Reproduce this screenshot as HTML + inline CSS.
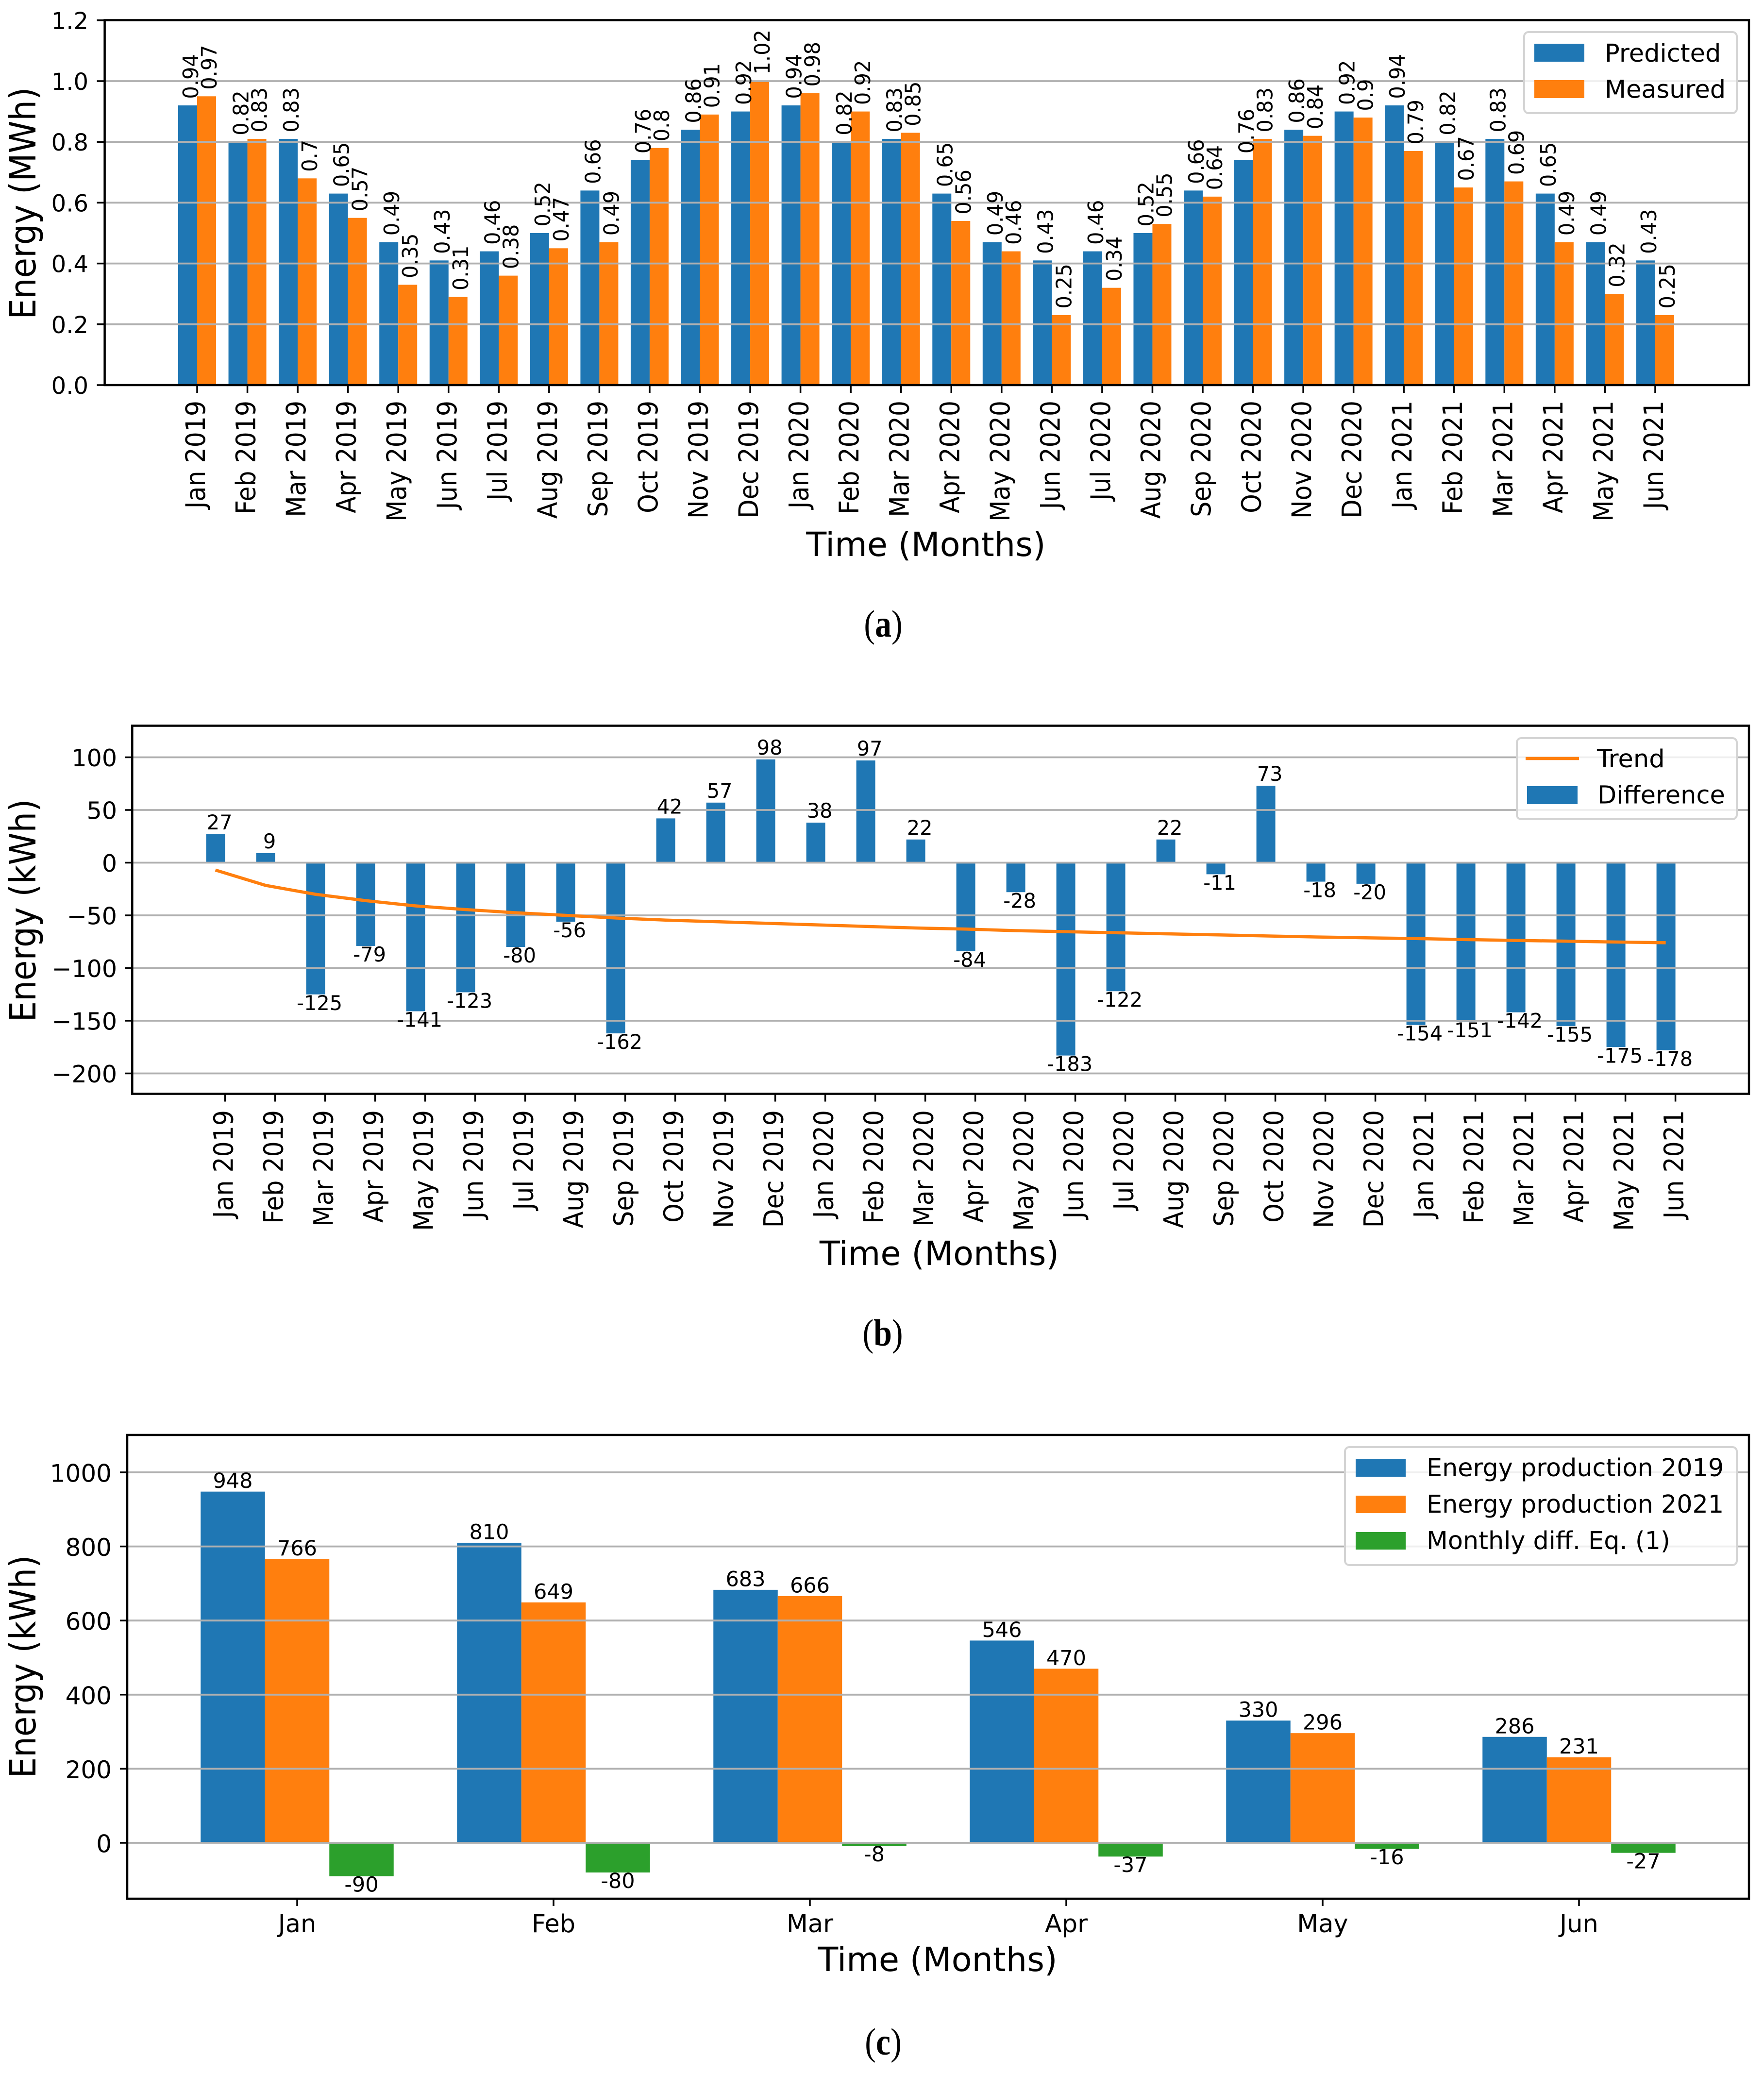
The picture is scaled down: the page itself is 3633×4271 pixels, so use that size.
<!DOCTYPE html>
<html lang="en">
<head>
<meta charset="utf-8">
<title>Energy charts</title>
<style>
html,body{margin:0;padding:0;background:#fff;}
svg{display:block;}
text{font-family:"DejaVu Sans","Liberation Sans",sans-serif;fill:#000;}
.cap{font-family:"Liberation Serif",serif;}
</style>
</head>
<body>
<svg id="fig" xmlns="http://www.w3.org/2000/svg" width="3633" height="4271" viewBox="0 0 3633 4271">
  <rect x="0" y="0" width="3633" height="4271" fill="#fff"/>
  <g id="chartA"></g>
  <g id="chartB"></g>
  <g id="chartC"></g>

  <text class="cap" transform="translate(1819,1311) scale(1,1.16)" text-anchor="middle" font-size="68">(<tspan font-weight="bold">a</tspan>)</text>
  <text class="cap" transform="translate(1818,2771) scale(1,1.16)" text-anchor="middle" font-size="68">(<tspan font-weight="bold">b</tspan>)</text>
  <text class="cap" transform="translate(1819,4231) scale(1,1.16)" text-anchor="middle" font-size="68">(<tspan font-weight="bold">c</tspan>)</text>

  <g id="legendA">
    <rect x="3139" y="66" width="438" height="167" rx="9" fill="#fff" fill-opacity="0.8" stroke="#d4d4d4" stroke-width="4"/>
    <rect x="3160" y="90" width="103" height="37" fill="#1f77b4"/>
    <rect x="3160" y="165" width="103" height="37" fill="#ff7f0e"/>
    <text x="3305" y="127" font-size="51">Predicted</text>
    <text x="3305" y="201.5" font-size="51">Measured</text>
  </g>
  <g id="legendB">
    <rect x="3124" y="1520" width="453" height="167" rx="9" fill="#fff" fill-opacity="0.8" stroke="#d4d4d4" stroke-width="4"/>
    <line x1="3142" y1="1562" x2="3252" y2="1562" stroke="#ff7f0e" stroke-width="6.5"/>
    <rect x="3145" y="1619" width="104" height="37" fill="#1f77b4"/>
    <text x="3289" y="1580" font-size="51">Trend</text>
    <text x="3290" y="1654.5" font-size="51">Difference</text>
  </g>
  <g id="legendC">
    <rect x="2770" y="2980" width="807" height="243" rx="9" fill="#fff" fill-opacity="0.8" stroke="#d4d4d4" stroke-width="4"/>
    <rect x="2792" y="3004" width="103" height="37" fill="#1f77b4"/>
    <rect x="2792" y="3080" width="103" height="36" fill="#ff7f0e"/>
    <rect x="2792" y="3155" width="103" height="36" fill="#2ca02c"/>
    <text x="2938" y="3040" font-size="50.8">Energy production 2019</text>
    <text x="2938" y="3115" font-size="50.8">Energy production 2021</text>
    <text x="2938" y="3190" font-size="50.8">Monthly diff. Eq. (1)</text>
  </g>
</svg>
<script>
// ---- Shared categories ----
const monthCategories = ['Jan 2019','Feb 2019','Mar 2019','Apr 2019','May 2019','Jun 2019','Jul 2019','Aug 2019','Sep 2019','Oct 2019','Nov 2019','Dec 2019','Jan 2020','Feb 2020','Mar 2020','Apr 2020','May 2020','Jun 2020','Jul 2020','Aug 2020','Sep 2020','Oct 2020','Nov 2020','Dec 2020','Jan 2021','Feb 2021','Mar 2021','Apr 2021','May 2021','Jun 2021'];

// ---- Chart A ----
const predictedValues = [0.92,0.80,0.81,0.63,0.47,0.41,0.44,0.50,0.64,0.74,0.84,0.90,0.92,0.80,0.81,0.63,0.47,0.41,0.44,0.50,0.64,0.74,0.84,0.90,0.92,0.80,0.81,0.63,0.47,0.41];
const measuredValues = [0.95,0.81,0.68,0.55,0.33,0.29,0.36,0.45,0.47,0.78,0.89,1.00,0.96,0.90,0.83,0.54,0.44,0.23,0.32,0.53,0.62,0.81,0.82,0.88,0.77,0.65,0.67,0.47,0.30,0.23];
const predictedLabels = ['0.94','0.82','0.83','0.65','0.49','0.43','0.46','0.52','0.66','0.76','0.86','0.92','0.94','0.82','0.83','0.65','0.49','0.43','0.46','0.52','0.66','0.76','0.86','0.92','0.94','0.82','0.83','0.65','0.49','0.43'];
const measuredLabels = ['0.97','0.83','0.7','0.57','0.35','0.31','0.38','0.47','0.49','0.8','0.91','1.02','0.98','0.92','0.85','0.56','0.46','0.25','0.34','0.55','0.64','0.83','0.84','0.9','0.79','0.67','0.69','0.49','0.32','0.25'];
const yTicksA = [0,0.2,0.4,0.6,0.8,1.0,1.2];
const yTickLabelsA = ['0.0','0.2','0.4','0.6','0.8','1.0','1.2'];

// ---- Chart B ----
const differenceValues = [27,9,-125,-79,-141,-123,-80,-56,-162,42,57,98,38,97,22,-84,-28,-183,-122,22,-11,73,-18,-20,-154,-151,-142,-155,-175,-178];
const trendValues = [-7,-21.5,-30,-36,-41,-44.5,-47.5,-50,-52.5,-54.5,-56,-57.5,-59,-60.5,-62,-63,-64.5,-65.5,-66.5,-67.5,-68.5,-69.5,-70.5,-71.3,-72,-73,-73.8,-74.5,-75.3,-76];
const yTicksB = [-200,-150,-100,-50,0,50,100];
const yTickLabelsB = ['\u2212200','\u2212150','\u2212100','\u221250','0','50','100'];

// ---- Chart C ----
const shortMonths = ['Jan','Feb','Mar','Apr','May','Jun'];
const production2019 = [948,810,683,546,330,286];
const production2021 = [766,649,666,470,296,231];
const monthlyDiff = [-90,-80,-8,-37,-16,-27];
const yTicksC = [0,200,400,600,800,1000];
const yTickLabelsC = ['0','200','400','600','800','1000'];

// ---- Axis functions ----
const xA = i => 406 + i * 103.55;
const yA = v => 793 - v * 626;
const xB = i => 463.6 + i * 103;
const yB = v => 1776.5 - v * 2.17;
const xC = i => 612 + i * 528;
const yC = v => 3795 - v * 0.763;

const NS = 'http://www.w3.org/2000/svg';
function mk(tag, parent, attrs, txt) {
  const el = document.createElementNS(NS, tag);
  for (const k in attrs) el.setAttribute(k, attrs[k]);
  if (txt !== undefined) el.textContent = txt;
  parent.appendChild(el);
  return el;
}
function barRect(parent, x0, x1, y0, y1, color) {
  return mk('rect', parent, {x: x0, y: Math.min(y0, y1), width: x1 - x0, height: Math.abs(y1 - y0), fill: color});
}
function drawGrid(g, ticks, yf, left, right, key) {
  ticks.forEach(function (t) {
    const l = mk('line', g, {x1: left, x2: right, y1: yf(t), y2: yf(t), stroke: '#b0b0b0', 'stroke-width': 3.8});
    
    
  });
}
function drawFrame(g, left, top, right, bottom, key) {
  const f = mk('rect', g, {x: left, y: top, width: right - left, height: bottom - top, fill: 'none', stroke: '#000', 'stroke-width': 4.5});
  
  
}
function drawYTicks(g, ticks, labels, yf, left, len, labelRight, fs, dy, key) {
  ticks.forEach(function (t, i) {
    const m = mk('line', g, {x1: left - len, x2: left, y1: yf(t), y2: yf(t), stroke: '#000', 'stroke-width': 3.5});
    
    
    const lab = mk('text', g, {x: labelRight, y: yf(t) + dy, 'text-anchor': 'end', 'font-size': fs}, labels[i]);
    
    
  });
}
function drawRotatedXTicks(g, cats, xf, bottom, textTop, key) {
  cats.forEach(function (c, i) {
    const m = mk('line', g, {x1: xf(i), x2: xf(i), y1: bottom, y2: bottom + 16, stroke: '#000', 'stroke-width': 3.5});
    
    
    const lab = mk('text', g, {transform: 'translate(' + (xf(i) + 16) + ',' + textTop + ') rotate(-90) scale(1,1.09)', 'text-anchor': 'end', 'font-size': 50.5}, c);
    
    
  });
}
function drawTitles(g, xlabel, xx, xy, ylabel, yy, key) {
  const xt = mk('text', g, {x: xx, y: xy, 'text-anchor': 'middle', 'font-size': 68.5}, xlabel);
  
  
  const yt = mk('text', g, {transform: 'translate(73,' + yy + ') rotate(-90) scale(1,1.09)', 'text-anchor': 'middle', 'font-size': 67.5}, ylabel);
  
  
}

// ======== Chart A ========
(function () {
  const g = document.getElementById('chartA');
  const barW = 39;
  monthCategories.forEach(function (c, i) {
    const p = barRect(g, xA(i) - barW, xA(i), yA(predictedValues[i]), yA(0), '#1f77b4');
    
    
    const q = barRect(g, xA(i), xA(i) + barW, yA(measuredValues[i]), yA(0), '#ff7f0e');
    
    
  });
  drawGrid(g, yTicksA.slice(1, 6), yA, 215.6, 3602, 'chart-a');
  drawFrame(g, 215.6, 41.5, 3602, 793, 'chart-a');
  monthCategories.forEach(function (c, i) {
    const a = mk('text', g, {transform: 'translate(' + (xA(i) + 2) + ',' + (yA(predictedValues[i]) - 13.5) + ') rotate(-90) scale(1,1.06)', 'font-size': 41.5}, predictedLabels[i]);
    
    
    const b = mk('text', g, {transform: 'translate(' + (xA(i) + barW + 1) + ',' + (yA(measuredValues[i]) - 13.5) + ') rotate(-90) scale(1,1.06)', 'font-size': 41.5}, measuredLabels[i]);
    
    
  });
  drawYTicks(g, yTicksA, yTickLabelsA, yA, 215.6, 16, 182, 48, 18, 'chart-a');
  drawRotatedXTicks(g, monthCategories, xA, 793, 825, 'chart-a');
  drawTitles(g, 'Time (Months)', 1907, 1145, 'Energy (MWh)', 418.7, 'chart-a');
})();

// ======== Chart B ========
(function () {
  const g = document.getElementById('chartB');
  const barW = 39;
  monthCategories.forEach(function (c, i) {
    const r = barRect(g, xB(i) - barW, xB(i), yB(differenceValues[i]), yB(0), '#1f77b4');
    
    
  });
  drawGrid(g, yTicksB, yB, 272.3, 3602, 'chart-b');
  const pts = trendValues.map(function (v, i) { return (xB(i) - 20) + ',' + yB(v); }).join(' ');
  const trend = mk('polyline', g, {points: pts, fill: 'none', stroke: '#ff7f0e', 'stroke-width': 6.5});
  
  
  drawFrame(g, 272.3, 1494.5, 3602, 2252.5, 'chart-b');
  differenceValues.forEach(function (v, i) {
    const y = v >= 0 ? yB(v) - 10 : yB(v) + 32;
    const t = mk('text', g, {x: xB(i) - barW / 2 + 8, y: y, 'text-anchor': 'middle', 'font-size': 41.5}, String(v));
    
    
  });
  drawYTicks(g, yTicksB, yTickLabelsB, yB, 272.3, 15, 241, 49, 18.5, 'chart-b');
  drawRotatedXTicks(g, monthCategories, xB, 2252.5, 2286, 'chart-b');
  drawTitles(g, 'Time (Months)', 1934.5, 2605, 'Energy (kWh)', 1875, 'chart-b');
})();

// ======== Chart C ========
(function () {
  const g = document.getElementById('chartC');
  const barW = 132.5;
  shortMonths.forEach(function (m, i) {
    const a = barRect(g, xC(i) - 1.5 * barW, xC(i) - 0.5 * barW, yC(production2019[i]), yC(0), '#1f77b4');
    
    
    const b = barRect(g, xC(i) - 0.5 * barW, xC(i) + 0.5 * barW, yC(production2021[i]), yC(0), '#ff7f0e');
    
    
    const d = barRect(g, xC(i) + 0.5 * barW, xC(i) + 1.5 * barW, yC(0), yC(monthlyDiff[i]), '#2ca02c');
    
    
  });
  drawGrid(g, yTicksC, yC, 262, 3602, 'chart-c');
  drawFrame(g, 262, 2955, 3602, 3910, 'chart-c');
  shortMonths.forEach(function (m, i) {
    const a = mk('text', g, {x: xC(i) - barW, y: yC(production2019[i]) - 7.5, 'text-anchor': 'middle', 'font-size': 43}, String(production2019[i]));
    
    
    const b = mk('text', g, {x: xC(i), y: yC(production2021[i]) - 7.5, 'text-anchor': 'middle', 'font-size': 43}, String(production2021[i]));
    
    
    const d = mk('text', g, {x: xC(i) + barW, y: yC(monthlyDiff[i]) + 32, 'text-anchor': 'middle', 'font-size': 43}, String(monthlyDiff[i]));
    
    
    const tk = mk('line', g, {x1: xC(i), x2: xC(i), y1: 3910, y2: 3925, stroke: '#000', 'stroke-width': 3.5});
    
    
    const lb = mk('text', g, {x: xC(i), y: 3979, 'text-anchor': 'middle', 'font-size': 51}, m);
    
    
  });
  drawYTicks(g, yTicksC, yTickLabelsC, yC, 262, 15, 230, 50, 19.5, 'chart-c');
  drawTitles(g, 'Time (Months)', 1931, 4059, 'Energy (kWh)', 3432, 'chart-c');
})();
</script>
</body>
</html>
